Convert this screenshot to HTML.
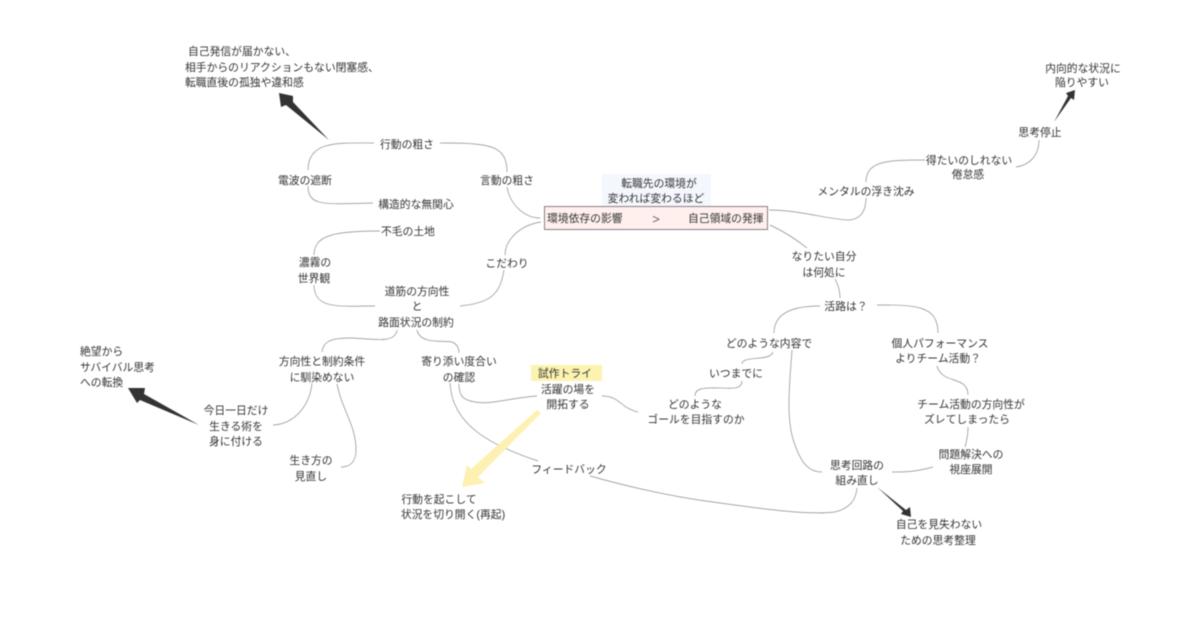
<!DOCTYPE html>
<html lang="ja">
<head>
<meta charset="utf-8">
<style>
html,body{margin:0;padding:0;background:#fff;width:1200px;height:630px;overflow:hidden}
svg{display:block;filter:blur(0.4px)}
text{font-family:"Liberation Sans","Noto Sans CJK JP",sans-serif;font-size:10.8px;fill:#333;text-anchor:middle;dominant-baseline:central}
text.l{text-anchor:start}
path.c{fill:none;stroke:#8a8a8a;stroke-width:.7}
</style>
</head>
<body>
<svg width="1200" height="630" viewBox="0 0 1200 630" xmlns="http://www.w3.org/2000/svg">
<rect x="602" y="174" width="109" height="32" fill="#f5f7ff"/>
<rect x="531" y="365" width="71" height="16" fill="#fdf3b0"/>
<rect x="544.500" y="206.500" width="223" height="23" fill="#fff0ee" stroke="#8a7f7f" stroke-width="1"/>

<path class="c" d="M374 143C340 143 308 140 308 170"/>
<path class="c" d="M308 186C308 207 325 204 373 203"/>
<path class="c" d="M440 143C490 143 507 145 507 172"/>
<path class="c" d="M507 187C510 205 525 218 540 218"/>
<path class="c" d="M541 222C520 225 505 240 505 255"/>
<path class="c" d="M504 270C500 295 490 303 460 306"/>
<path class="c" d="M375 306C340 306 314 310 314 285"/>
<path class="c" d="M314 255C314 235 335 231 380 231"/>
<path class="c" d="M769 210C800 210 830 220 850 220C865 218 866 205 866 198"/>
<path class="c" d="M866 182C866 160 890 160 925 160"/>
<path class="c" d="M1016 167C1030 165 1039 155 1039 140"/>
<path class="c" d="M770 225C785 232 797 240 807 248"/>
<path class="c" d="M835 279C838 285 840 290 840 298"/>
<path class="c" d="M820 306C795 306 774 312 774 333"/>
<path class="c" d="M877 305C915 305 938 305 938 333"/>
<path class="c" d="M937 366C942 385 968 375 968 395"/>
<path class="c" d="M968 427C968 435 967 440 965 447"/>
<path class="c" d="M933 467C915 472 905 472 892 472"/>
<path class="c" d="M792 350C790 380 785 420 795 445C802 465 810 472 822 472"/>
<path class="c" d="M773 352C770 362 742 355 742 364"/>
<path class="c" d="M742 381C742 392 725 387 710 388C700 388 695 390 695 396"/>
<path class="c" d="M638 412C620 408 620 396 602 396"/>
<path class="c" d="M537 396C510 398 490 405 475 402C462 400 459 395 459 384"/>
<path class="c" d="M450 383C452 425 490 445 538 461"/>
<path class="c" d="M590 476C640 490 680 498 720 503C770 510 810 515 835 512C850 508 856 500 857 488"/>
<path class="c" d="M397 330C395 345 370 338 350 338C330 338 323 342 322 352"/>
<path class="c" d="M417 330C420 345 445 340 452 342C457 344 459 348 459 353"/>
<path class="c" d="M312 383C310 405 295 424 273 425"/>
<path class="c" d="M337 384C342 410 356 425 356 450C356 462 350 467 341 467"/>

<polygon points="329,140 293,102 293,96 279,93 281,107 286,105" fill="#333"/>
<polygon points="199,425 144,394 145,388 128,388 137,403 140,400" fill="#333"/>
<polygon points="1054,122 1068,96 1066,93 1075,90 1074,100 1071,98" fill="#333"/>
<polygon points="877,487 906,510 910,507 911,517 901,514 903,511" fill="#333"/>
<polygon points="541,413 537,410 471,469 467,465 462,487 485,483 478,477" fill="#fdf0b0"/>

<g transform="translate(0 2)">
<text class="l" x="188" y="50">自己発信が届かない、</text>
<text class="l" x="185" y="66">相手からのリアクションもない閉塞感、</text>
<text class="l" x="185" y="81">転職直後の孤独や違和感</text>
<text x="407" y="143">行動の粗さ</text>
<text x="305" y="179">電波の遮断</text>
<text x="507" y="179">言動の粗さ</text>
<text x="416" y="203">構造的な無関心</text>
<text x="408" y="230">不毛の土地</text>
<text x="315" y="261">濃霧の</text>
<text x="314" y="277">世界観</text>
<text x="507" y="262">こだわり</text>
<text x="417" y="290">道筋の方向性</text>
<text x="417" y="305">と</text>
<text x="416" y="321">路面状況の制約</text>
<text x="659" y="182">転職先の環境が</text>
<text x="656" y="197">変われば変わるほど</text>
<text class="l" x="547" y="217">環境依存の影響</text>
<text x="656" y="217" style="font-size:13px;fill:#666">&gt;</text>
<text class="l" x="688" y="217">自己領域の発揮</text>
<text x="866" y="190">メンタルの浮き沈み</text>
<text x="969" y="159">得たいのしれない</text>
<text x="968" y="173">倦怠感</text>
<text x="1040" y="131">思考停止</text>
<text x="1083" y="67">内向的な状況に</text>
<text x="1082" y="81">陥りやすい</text>
<text x="824" y="255">なりたい自分</text>
<text x="824" y="271">は何処に</text>
<text x="846" y="305">活路は？</text>
<text x="769" y="342">どのような内容で</text>
<text x="940" y="342">個人パフォーマンス</text>
<text x="938" y="357">よりチーム活動？</text>
<text x="971" y="403">チーム活動の方向性が</text>
<text x="967" y="418">ズレてしまったら</text>
<text x="971" y="453">問題解決への</text>
<text x="971" y="468">視座展開</text>
<text x="857" y="464">思考回路の</text>
<text x="857" y="479">組み直し</text>
<text x="939" y="523">自己を見失わない</text>
<text x="938" y="539">ための思考整理</text>
<text x="736" y="372">いつまでに</text>
<text x="695" y="403">どのような</text>
<text x="696" y="418">ゴールを目指すのか</text>
<text x="568" y="388">活躍の場を</text>
<text x="568" y="403">開拓する</text>
<text x="565" y="372">試作トライ</text>
<text x="459" y="360">寄り添い度合い</text>
<text x="459" y="376">の確認</text>
<text x="569" y="468">フィードバック</text>
<text x="439" y="498">行動を起こして</text>
<text x="453" y="513">状況を切り開く(再起)</text>
<text x="322" y="360">方向性と制約条件</text>
<text x="322" y="376">に馴染めない</text>
<text x="236" y="409">今日一日だけ</text>
<text x="236" y="425">生きる術を</text>
<text x="236" y="440">身に付ける</text>
<text x="311" y="459">生き方の</text>
<text x="311" y="475">見直し</text>
<text class="l" x="80" y="350">絶望から</text>
<text class="l" x="80" y="366">サバイバル思考</text>
<text class="l" x="80" y="381">への転換</text>
</g>
</svg>
</body>
</html>
